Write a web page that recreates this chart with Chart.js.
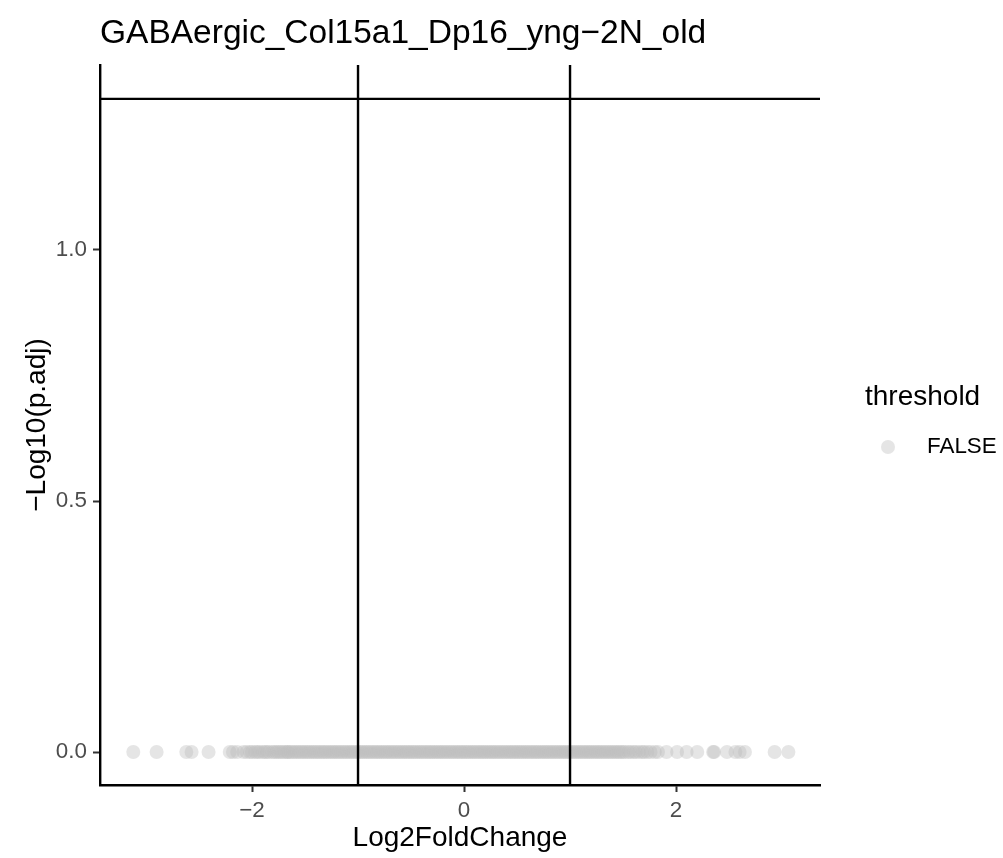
<!DOCTYPE html>
<html>
<head>
<meta charset="utf-8">
<title>GABAergic_Col15a1_Dp16_yng−2N_old</title>
<script src="https://cdn.jsdelivr.net/npm/chart.js@4/dist/chart.umd.min.js"></script>
<style>
  html, body { margin: 0; padding: 0; background: #ffffff; }
  #wrap { width: 1003px; height: 858px; position: relative; }
</style>
</head>
<body>
<div id="wrap"><canvas id="volcano" width="1003" height="858"></canvas></div>
<script>
// --- data ---
const plotTitle = 'GABAergic_Col15a1_Dp16_yng\u22122N_old';
const xTitle = 'Log2FoldChange';
const yTitle = '\u2212Log10(p.adj)';
const legendTitle = 'threshold';
const legendLabel = 'FALSE';

// log2 fold changes of the genes (all threshold = FALSE)
const leftTailX = [-3.12, -2.90, -2.62, -2.57, -2.41, -2.21, -2.18, -2.14, -2.08, -2.05, -2.02];
const leftEdgeX = [-2.00, -1.97, -1.95, -1.93, -1.90, -1.88, -1.86, -1.84, -1.81, -1.79,
                   -1.77, -1.75, -1.73, -1.71, -1.69, -1.67, -1.66];
const coreX = [
  -1.64, -1.62, -1.60, -1.58, -1.56, -1.54, -1.52, -1.50, -1.48, -1.46,
  -1.44, -1.42, -1.40, -1.38, -1.36, -1.34, -1.32, -1.30, -1.28, -1.26,
  -1.24, -1.22, -1.20, -1.18, -1.16, -1.14, -1.12, -1.10, -1.08, -1.06,
  -1.04, -1.02, -1.00, -0.98, -0.96, -0.94, -0.92, -0.90, -0.88, -0.86,
  -0.84, -0.82, -0.80, -0.78, -0.76, -0.74, -0.72, -0.70, -0.68, -0.66,
  -0.64, -0.62, -0.60, -0.58, -0.56, -0.54, -0.52, -0.50, -0.48, -0.46,
  -0.44, -0.42, -0.40, -0.38, -0.36, -0.34, -0.32, -0.30, -0.28, -0.26,
  -0.24, -0.22, -0.20, -0.18, -0.16, -0.14, -0.12, -0.10, -0.08, -0.06,
  -0.04, -0.02, 0.00, 0.02, 0.04, 0.06, 0.08, 0.10, 0.12, 0.14,
  0.16, 0.18, 0.20, 0.22, 0.24, 0.26, 0.28, 0.30, 0.32, 0.34,
  0.36, 0.38, 0.40, 0.42, 0.44, 0.46, 0.48, 0.50, 0.52, 0.54,
  0.56, 0.58, 0.60, 0.62, 0.64, 0.66, 0.68, 0.70, 0.72, 0.74,
  0.76, 0.78, 0.80, 0.82, 0.84, 0.86, 0.88, 0.90, 0.92, 0.94,
  0.96, 0.98, 1.00, 1.02, 1.04, 1.06, 1.08, 1.10, 1.12, 1.14,
  1.16, 1.18, 1.20, 1.22, 1.24, 1.26, 1.28, 1.30, 1.32, 1.34,
  1.36, 1.38, 1.40, 1.42, 1.44, 1.46, 1.48, 1.50, 1.52
];
const rightEdgeX = [1.55, 1.57, 1.60, 1.62, 1.65, 1.68, 1.70, 1.73, 1.76, 1.80, 1.83];
const rightTailX = [1.91, 2.01, 2.10, 2.20, 2.35, 2.36, 2.48, 2.56, 2.60, 2.65, 2.93, 3.06];
// every gene sits at -log10(p.adj) = 0
const geneY = 0;

// threshold lines: |log2FC| = 1 and p.adj = 0.05
const foldCutoffs = [-1, 1];
const pCutoff = 1.30103;

// axis ranges and ticks
const xRange = [-3.434, 3.358];
const yRange = [-0.0657, 1.3685];
const xTicks = [-2, 0, 2];
const yTicks = [0, 0.5, 1.0];

// --- styles ---
const FONT = '"Liberation Sans", Arial, Helvetica, sans-serif';
const pointColor = 'rgba(190, 190, 190, 0.4)';
const tickText = '#4d4d4d';
const LINE_W = 2.4;

const allX = [...leftTailX, ...leftEdgeX, ...coreX, ...rightEdgeX, ...rightTailX];
const genePoints = allX.map(x => ({ x: x, y: geneY }));

function minusSign(v) {
  return v < 0 ? '\u2212' + Math.abs(v) : String(v);
}

const lineDatasets = foldCutoffs.map(fc => ({
  type: 'scatter',
  data: [{ x: fc, y: yRange[0] }, { x: fc, y: yRange[1] }],
  showLine: true,
  borderColor: '#000000',
  borderWidth: LINE_W,
  pointRadius: 0,
  order: 0
}));
lineDatasets.push({
  type: 'scatter',
  data: [{ x: xRange[0], y: pCutoff }, { x: xRange[1], y: pCutoff }],
  showLine: true,
  borderColor: '#000000',
  borderWidth: LINE_W,
  pointRadius: 0,
  order: 0
});

// title and legend drawn on the canvas
const decorPlugin = {
  id: 'decor',
  afterDraw(chart) {
    const ctx = chart.ctx;
    ctx.save();
    ctx.textBaseline = 'alphabetic';
    ctx.textAlign = 'left';
    ctx.fillStyle = '#000000';
    ctx.font = '33.5px ' + FONT;
    ctx.fillText(plotTitle, chart.chartArea.left, 43);

    ctx.font = '28px ' + FONT;
    ctx.fillText(legendTitle, 865, 405);

    ctx.beginPath();
    ctx.arc(888, 447, 7, 0, Math.PI * 2);
    ctx.fillStyle = pointColor;
    ctx.fill();

    ctx.fillStyle = '#000000';
    ctx.font = '22.4px ' + FONT;
    ctx.fillText(legendLabel, 927, 453);
    ctx.restore();
  }
};

new Chart(document.getElementById('volcano'), {
  type: 'scatter',
  data: {
    datasets: [
      ...lineDatasets,
      {
        label: legendLabel,
        data: genePoints,
        backgroundColor: pointColor,
        borderWidth: 0,
        pointRadius: 7,
        pointHoverRadius: 7,
        order: 1
      }
    ]
  },
  options: {
    responsive: false,
    animation: false,
    devicePixelRatio: 1,
    layout: { padding: { top: 65, right: 183, bottom: 0, left: 0 } },
    plugins: {
      legend: { display: false },
      title: { display: false },
      tooltip: { enabled: false }
    },
    scales: {
      x: {
        type: 'linear',
        min: xRange[0],
        max: xRange[1],
        afterBuildTicks: s => { s.ticks = xTicks.map(v => ({ value: v })); },
        afterFit: s => { s.height = 73; },
        border: { display: true, color: '#000000', width: LINE_W },
        grid: { drawOnChartArea: false, drawTicks: true, tickLength: 7, tickWidth: 2, color: '#333333' },
        ticks: {
          color: tickText,
          font: { family: FONT, size: 22.4 },
          padding: 5,
          maxRotation: 0,
          callback: v => minusSign(v)
        },
        title: {
          display: true,
          text: xTitle,
          color: '#000000',
          font: { family: FONT, size: 28, lineHeight: 1.2 },
          padding: { top: 0, bottom: 3 }
        }
      },
      y: {
        type: 'linear',
        min: yRange[0],
        max: yRange[1],
        afterBuildTicks: s => { s.ticks = yTicks.map(v => ({ value: v })); },
        afterFit: s => { s.width = 100; },
        border: { display: true, color: '#000000', width: LINE_W },
        grid: { drawOnChartArea: false, drawTicks: true, tickLength: 7, tickWidth: 2, color: '#333333' },
        ticks: {
          color: tickText,
          font: { family: FONT, size: 22.4 },
          padding: 6,
          callback: v => v.toFixed(1)
        },
        title: {
          display: true,
          text: yTitle,
          color: '#000000',
          font: { family: FONT, size: 28, lineHeight: 1.2 },
          padding: { top: 20, bottom: 0 }
        }
      }
    }
  },
  plugins: [decorPlugin]
});
</script>
</body>
</html>
